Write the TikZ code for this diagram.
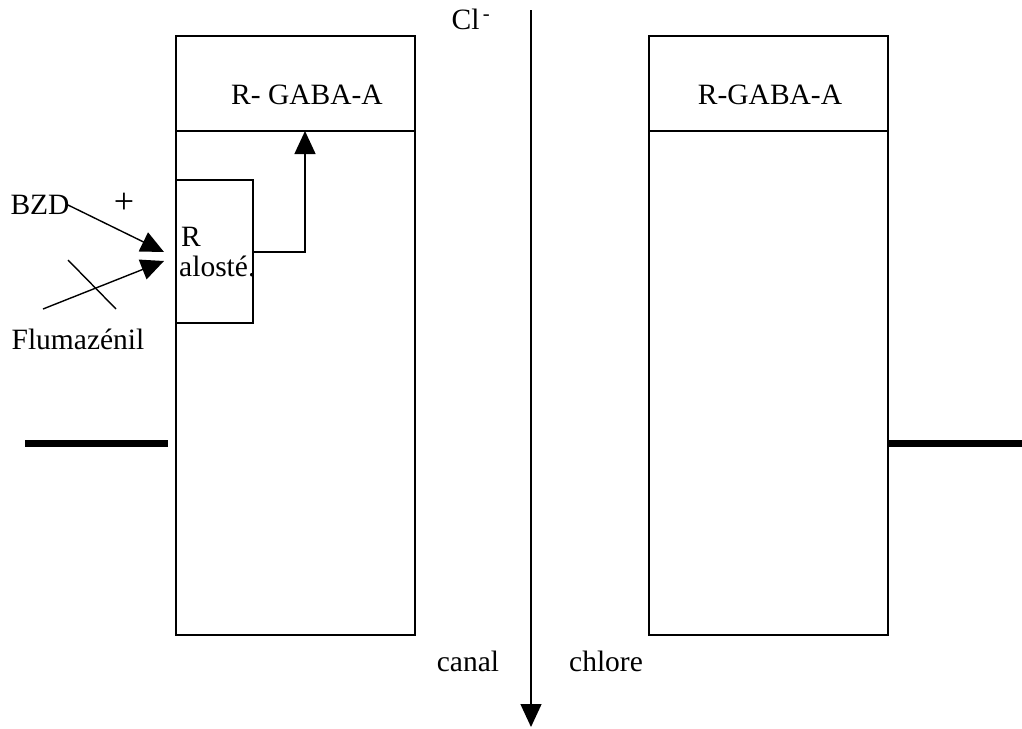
\documentclass[tikz,border=0pt]{standalone}
\usepackage{fontspec}
\setmainfont{Liberation Serif}
\usetikzlibrary{arrows.meta}
\begin{document}
\begin{tikzpicture}[x=1pt,y=-1pt,
  ln/.style={line width=1.4pt},
  tip/.style={-{Triangle[length=23pt,width=21pt]}},
  lbl/.style={font=\fontsize{29.5}{34}\selectfont, inner sep=0pt},
  bar/.style={line width=7pt}]
\useasboundingbox (0,0) rectangle (1022,728);
% boxes
\draw[ln] (176,36) rectangle (415,635);
\draw[ln] (176,131) -- (415,131);
\draw[ln] (649,36) rectangle (888,635);
\draw[ln] (649,131) -- (888,131);
\node[lbl] (lg) at (307,95) {R- GABA-A};
\node[lbl] (rg) at (770,95) {R-GABA-A};
% small receptor box
\draw[ln] (176,180) -- (253,180) -- (253,323) -- (176,323);
\node[lbl, anchor=west] (r1) at (181,237) {R};
\node[lbl, anchor=west] (r2) at (179,266) {alosté.};
\coordinate (so) at (253,252);
\coordinate (sup) at (305,131);
\draw[ln,tip] (so) -- (305,252) -- (sup);
% BZD
\node[lbl] (bzd) at (40,205) {BZD};
\node[lbl,font=\fontsize{36}{40}\selectfont] (plus) at (124,203) {+};
\coordinate (bzdtip) at (164,252);
\draw[ln,tip] (68,205) -- (bzdtip);
% Flumazenil
\coordinate (fs) at (43,309);
\coordinate (ftip) at (164,261);
\draw[ln,tip] (fs) -- (ftip);
\coordinate (c1) at (68,260);
\coordinate (c2) at (116,309);
\draw[ln] (c1) -- (c2);
\node[lbl] (flu) at (78,339) {Flumazénil};
% membrane bars
\coordinate (lb1) at (25,443); \coordinate (lb2) at (168,443);
\coordinate (rb1) at (888,443); \coordinate (rb2) at (1022,443);
\draw[bar] (lb1) -- (lb2);
\draw[bar] (rb1) -- (rb2);
% channel arrow
\coordinate (ct) at (531,10);
\coordinate (cb) at (531,727);
\draw[ln,tip] (ct) -- (cb);
\node[lbl] (cl) at (471,19) {Cl\textsuperscript{\,-}};
\node[lbl] (can) at (468,661) {canal};
\node[lbl] (chl) at (606,661) {chlore};
\end{tikzpicture}
\end{document}
